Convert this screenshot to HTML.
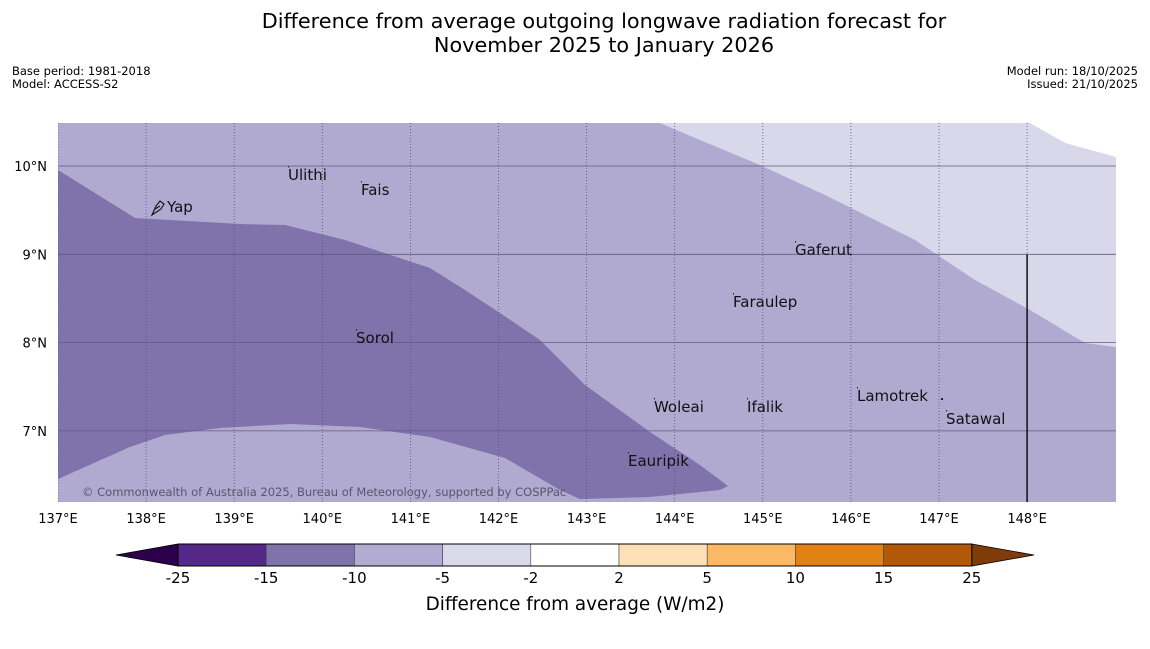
<!DOCTYPE html>
<html><head><meta charset="utf-8"><style>
html,body{margin:0;padding:0;background:#fff;}
svg text{font-family:"DejaVu Sans","Liberation Sans",sans-serif;}
</style></head><body>
<svg width="1150" height="644" viewBox="0 0 1150 644" xmlns="http://www.w3.org/2000/svg">
<text x="604" y="28" font-size="20.8" text-anchor="middle">Difference from average outgoing longwave radiation forecast for</text>
<text x="604" y="52" font-size="20.8" text-anchor="middle">November 2025 to January 2026</text>
<text x="12" y="75" font-size="11.5">Base period: 1981-2018</text>
<text x="12" y="88" font-size="11.5">Model: ACCESS-S2</text>
<text x="1138" y="75" font-size="11.5" text-anchor="end">Model run: 18/10/2025</text>
<text x="1138" y="88" font-size="11.5" text-anchor="end">Issued: 21/10/2025</text>
<defs><clipPath id="mapclip"><rect x="58" y="123" width="1058" height="379"/></clipPath></defs>
<g id="map" clip-path="url(#mapclip)"></g>
<g id="overlay"></g>
<g id="cbar"></g>
<text x="575" y="610" font-size="18.4" text-anchor="middle">Difference from average (W/m2)</text>
<script>
const lonTicks=[137,138,139,140,141,142,143,144,145,146,147,148];
const latTicks=[7,8,9,10];
const darkLon=[137.0,137.874,139.066,139.577,140.258,141.222,141.62,142.017,142.471,142.982,143.72,144.287,144.605,144.514,143.72,142.925,142.698,142.074,141.222,140.428,139.633,138.839,138.215,137.817,137.0];
const darkLat=[9.955,9.411,9.343,9.332,9.162,8.845,8.596,8.335,8.03,7.52,6.988,6.614,6.376,6.331,6.251,6.229,6.331,6.693,6.931,7.044,7.078,7.033,6.954,6.818,6.455];
const lightLon=[143.833,144.287,144.968,145.706,146.728,147.409,148.033,148.657,149.01,149.01,148.43,148.03];
const lightLat=[10.487,10.294,10.011,9.672,9.162,8.709,8.369,7.996,7.95,10.1,10.26,10.487];
const noDataLon=[148.03,148.43,149.01,149.01];
const noDataLat=[10.487,10.26,10.1,10.487];
const placeNames=["Ulithi","Fais","Yap","Gaferut","Faraulep","Sorol","Woleai","Ifalik","Lamotrek","Satawal","Eauripik"];
const placeLon=[139.611,140.439,138.237,145.366,144.662,140.383,143.765,144.821,146.069,147.08,143.47];
const placeLat=[9.898,9.728,9.536,9.049,8.46,8.052,7.271,7.271,7.395,7.135,6.659];
const cbLevels=[-25,-15,-10,-5,-2,2,5,10,15,25];
const cbColors=["#542788","#8073ac","#b2abd2","#d8daeb","#ffffff","#fee0b6","#fdb863","#e08214","#b35806"];

const NS="http://www.w3.org/2000/svg";
const X0=58,PXL=88.1,Y10=166,PYL=88.3;
const xs=lon=>X0+(lon-137)*PXL;
const ys=lat=>Y10-(lat-10)*PYL;
function mk(tag,attrs,parent){const e=document.createElementNS(NS,tag);for(const k in attrs)e.setAttribute(k,attrs[k]);parent.appendChild(e);return e;}
const map=document.getElementById('map'),ov=document.getElementById('overlay'),cb=document.getElementById('cbar');
let r=mk('rect',{x:58,y:123,width:1058,height:379,fill:'#b0aad0'},map);


let p=mk('polygon',{points:darkLon.map((l,i)=>xs(l)+','+ys(darkLat[i])).join(' '),fill:'#8073ac'},map);


let q=mk('polygon',{points:lightLon.map((l,i)=>xs(l)+','+ys(lightLat[i])).join(' '),fill:'#d8d8ea'},map);


let nd=mk('polygon',{points:noDataLon.map((l,i)=>xs(l)+','+ys(noDataLat[i])).join(' '),fill:'#ffffff'},map);


lonTicks.forEach(l=>{
 let g=mk('line',{x1:xs(l),x2:xs(l),y1:123,y2:502,stroke:'#555077','stroke-width':0.8,'stroke-dasharray':'1,2'},map);
 
 
 let t=mk('text',{x:xs(l),y:523,'font-size':13,'text-anchor':'middle'},ov);t.textContent=l+'°E';
 
 
});
latTicks.forEach(l=>{
 let g=mk('line',{x1:58,x2:1116,y1:ys(l),y2:ys(l),stroke:'#5f5a80','stroke-width':0.8},map);
 
 
 let t=mk('text',{x:47,y:ys(l)+5,'font-size':13,'text-anchor':'end'},ov);t.textContent=l+'°N';
 
 
});
let vl=mk('line',{x1:xs(148),x2:xs(148),y1:ys(9),y2:502,stroke:'#111','stroke-width':1.5},map);


placeNames.forEach((n,i)=>{
 const x=xs(placeLon[i]),y=ys(placeLat[i]);
 if(n!=="Yap"){
  let d=mk('rect',{x:x,y:y-9,width:1,height:1.5,fill:'#222'},ov);
  
  
 }
 let t=mk('text',{x:x,y:y+5,'font-size':15,fill:'#111'},ov);t.textContent=n;
 
 
});
let dot=mk('rect',{x:941,y:398,width:2,height:2,fill:'#222'},ov);


let yi=mk('path',{d:'M152,215 L156,206 L160,201 L164,204 L161,209 Z M155,209 L160,206',fill:'none',stroke:'#111','stroke-width':1.1},ov);


let cp=mk('text',{x:82,y:496,'font-size':11.5,fill:'#5a5570'},ov);cp.textContent='© Commonwealth of Australia 2025, Bureau of Meteorology, supported by COSPPac';


const CB0=178,CBW=88.2,CBY=544,CBH=22;
let lt=mk('polygon',{points:`116,555 ${CB0},${CBY} ${CB0},${CBY+CBH}`,fill:'#2d004b',stroke:'#000','stroke-width':0.8},cb);


const endX=CB0+CBW*cbColors.length;
let rt=mk('polygon',{points:`${endX},${CBY} 1034,555 ${endX},${CBY+CBH}`,fill:'#7f3b08',stroke:'#000','stroke-width':0.8},cb);


cbColors.forEach((c,i)=>{
 let s=mk('rect',{x:CB0+i*CBW,y:CBY,width:CBW,height:CBH,fill:c,stroke:'#444','stroke-width':0.6},cb);
 
 
});
mk('rect',{x:CB0,y:CBY,width:endX-CB0,height:CBH,fill:'none',stroke:'#000','stroke-width':1},cb);
cbLevels.forEach((v,i)=>{
 let t=mk('text',{x:CB0+i*CBW,y:583,'font-size':15,'text-anchor':'middle'},cb);t.textContent=v;
 
 
});
</script>
</svg>
</body></html>
